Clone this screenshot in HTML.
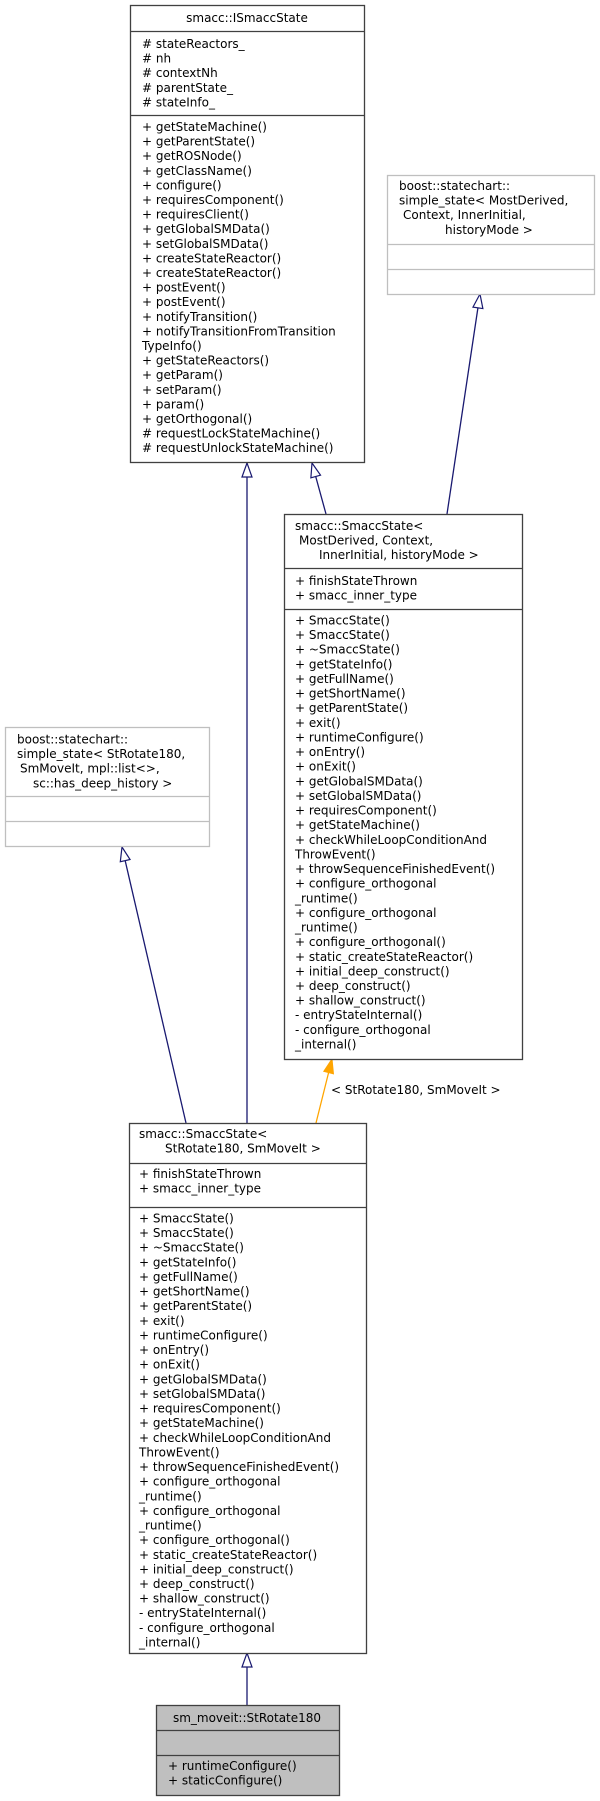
<!DOCTYPE html>
<html><head><meta charset="utf-8"><style>
html,body{margin:0;padding:0;background:#fff;}
svg{display:block;}
text{font-family:"DejaVu Sans","Liberation Sans",sans-serif;font-size:12px;fill:#000;}
</style></head><body>
<svg width="600" height="1801" viewBox="0 0 600 1801" xmlns="http://www.w3.org/2000/svg">
<defs>
<marker id="h" markerWidth="16" markerHeight="12" refX="15" refY="6" orient="auto" markerUnits="userSpaceOnUse">
<polygon points="1,1 15,6 1,11" fill="#fff" stroke="#191970" stroke-width="1.2"/></marker>
<marker id="o" markerWidth="16" markerHeight="12" refX="15" refY="6" orient="auto" markerUnits="userSpaceOnUse">
<polygon points="1,1 15,6 1,11" fill="#ffa500" stroke="#ffa500" stroke-width="1"/></marker>
</defs>

<!-- edges -->
<g stroke="#191970" stroke-width="1.3" fill="none">
<line x1="247" y1="1123" x2="247" y2="463" marker-end="url(#h)"/>
<line x1="326" y1="514" x2="312" y2="463" marker-end="url(#h)"/>
<line x1="447" y1="514" x2="480" y2="294" marker-end="url(#h)"/>
<line x1="186" y1="1123" x2="122" y2="847" marker-end="url(#h)"/>
<line x1="247" y1="1705" x2="247" y2="1653" marker-end="url(#h)"/>
</g>
<line x1="316" y1="1123" x2="332" y2="1059" stroke="#ffa500" stroke-width="1.3" marker-end="url(#o)"/>
<text x="331" y="1094">&lt; StRotate180, SmMoveIt &gt;</text>

<!-- ISmaccState -->
<rect x="130.5" y="5.5" width="234" height="457" fill="#fff" stroke="#404040" stroke-width="1.3"/>
<line x1="130" y1="31.5" x2="365" y2="31.5" stroke="#404040" stroke-width="1.3"/>
<line x1="130" y1="115.5" x2="365" y2="115.5" stroke="#404040" stroke-width="1.3"/>
<text x="247" y="22" text-anchor="middle">smacc::ISmaccState</text>
<text x="142" y="48"><tspan x="142">#&#160;stateReactors_</tspan><tspan x="142" dy="14.6"># nh</tspan><tspan x="142" dy="14.6"># contextNh</tspan><tspan x="142" dy="14.6"># parentState_</tspan><tspan x="142" dy="14.6"># stateInfo_</tspan></text>
<text x="142" y="131"><tspan x="142">+ getStateMachine()</tspan><tspan x="142" dy="14.6">+ getParentState()</tspan><tspan x="142" dy="14.6">+ getROSNode()</tspan><tspan x="142" dy="14.6">+ getClassName()</tspan><tspan x="142" dy="14.6">+ configure()</tspan><tspan x="142" dy="14.6">+ requiresComponent()</tspan><tspan x="142" dy="14.6">+ requiresClient()</tspan><tspan x="142" dy="14.6">+ getGlobalSMData()</tspan><tspan x="142" dy="14.6">+ setGlobalSMData()</tspan><tspan x="142" dy="14.6">+ createStateReactor()</tspan><tspan x="142" dy="14.6">+ createStateReactor()</tspan><tspan x="142" dy="14.6">+ postEvent()</tspan><tspan x="142" dy="14.6">+ postEvent()</tspan><tspan x="142" dy="14.6">+ notifyTransition()</tspan><tspan x="142" dy="14.6">+ notifyTransitionFromTransition</tspan><tspan x="142" dy="14.6">TypeInfo()</tspan><tspan x="142" dy="14.6">+ getStateReactors()</tspan><tspan x="142" dy="14.6">+ getParam()</tspan><tspan x="142" dy="14.6">+ setParam()</tspan><tspan x="142" dy="14.6">+ param()</tspan><tspan x="142" dy="14.6">+ getOrthogonal()</tspan><tspan x="142" dy="14.6"># requestLockStateMachine()</tspan><tspan x="142" dy="14.6"># requestUnlockStateMachine()</tspan></text>

<!-- boost right -->
<rect x="387.5" y="175.5" width="207" height="119" fill="#fff" stroke="#bfbfbf" stroke-width="1.3"/>
<line x1="387" y1="244.5" x2="595" y2="244.5" stroke="#bfbfbf" stroke-width="1.3"/>
<line x1="387" y1="269.5" x2="595" y2="269.5" stroke="#bfbfbf" stroke-width="1.3"/>
<text y="190"><tspan x="399">boost::statechart::</tspan><tspan x="399" dy="14.6">simple_state&lt; MostDerived,</tspan><tspan x="403" dy="14.6">Context, InnerInitial,</tspan><tspan x="445" dy="14.6">historyMode &gt;</tspan></text>

<!-- template SmaccState -->
<rect x="284.5" y="514.5" width="238" height="545" fill="#fff" stroke="#404040" stroke-width="1.3"/>
<line x1="284" y1="568.5" x2="523" y2="568.5" stroke="#404040" stroke-width="1.3"/>
<line x1="284" y1="609.5" x2="523" y2="609.5" stroke="#404040" stroke-width="1.3"/>
<text y="530"><tspan x="295">smacc::SmaccState&lt;</tspan><tspan x="299" dy="14.6">MostDerived, Context,</tspan><tspan x="319" dy="14.6">InnerInitial, historyMode &gt;</tspan></text>
<text y="585"><tspan x="295">+ finishStateThrown</tspan><tspan x="295" dy="14.6">+ smacc_inner_type</tspan></text>
<text y="624.5"><tspan x="295">+ SmaccState()</tspan><tspan x="295" dy="14.62">+ SmaccState()</tspan><tspan x="295" dy="14.62">+ ~SmaccState()</tspan><tspan x="295" dy="14.62">+ getStateInfo()</tspan><tspan x="295" dy="14.62">+ getFullName()</tspan><tspan x="295" dy="14.62">+ getShortName()</tspan><tspan x="295" dy="14.62">+ getParentState()</tspan><tspan x="295" dy="14.62">+ exit()</tspan><tspan x="295" dy="14.62">+ runtimeConfigure()</tspan><tspan x="295" dy="14.62">+ onEntry()</tspan><tspan x="295" dy="14.62">+ onExit()</tspan><tspan x="295" dy="14.62">+ getGlobalSMData()</tspan><tspan x="295" dy="14.62">+ setGlobalSMData()</tspan><tspan x="295" dy="14.62">+ requiresComponent()</tspan><tspan x="295" dy="14.62">+ getStateMachine()</tspan><tspan x="295" dy="14.62">+ checkWhileLoopConditionAnd</tspan><tspan x="295" dy="14.62">ThrowEvent()</tspan><tspan x="295" dy="14.62">+ throwSequenceFinishedEvent()</tspan><tspan x="295" dy="14.62">+ configure_orthogonal</tspan><tspan x="295" dy="14.62">_runtime()</tspan><tspan x="295" dy="14.62">+ configure_orthogonal</tspan><tspan x="295" dy="14.62">_runtime()</tspan><tspan x="295" dy="14.62">+ configure_orthogonal()</tspan><tspan x="295" dy="14.62">+ static_createStateReactor()</tspan><tspan x="295" dy="14.62">+ initial_deep_construct()</tspan><tspan x="295" dy="14.62">+ deep_construct()</tspan><tspan x="295" dy="14.62">+ shallow_construct()</tspan><tspan x="295" dy="14.62">- entryStateInternal()</tspan><tspan x="295" dy="14.62">- configure_orthogonal</tspan><tspan x="295" dy="14.62">_internal()</tspan></text>

<!-- boost left -->
<rect x="5.5" y="727.5" width="204" height="119" fill="#fff" stroke="#bfbfbf" stroke-width="1.3"/>
<line x1="5" y1="796.5" x2="210" y2="796.5" stroke="#bfbfbf" stroke-width="1.3"/>
<line x1="5" y1="821.5" x2="210" y2="821.5" stroke="#bfbfbf" stroke-width="1.3"/>
<text y="743.5"><tspan x="17">boost::statechart::</tspan><tspan x="17" dy="14.6">simple_state&lt; StRotate180,</tspan><tspan x="20" dy="14.6">SmMoveIt, mpl::list&lt;&gt;,</tspan><tspan x="33" dy="14.6">sc::has_deep_history &gt;</tspan></text>

<!-- middle SmaccState -->
<rect x="129.5" y="1123.5" width="237" height="530" fill="#fff" stroke="#404040" stroke-width="1.3"/>
<line x1="129" y1="1163.5" x2="367" y2="1163.5" stroke="#404040" stroke-width="1.3"/>
<line x1="129" y1="1207.5" x2="367" y2="1207.5" stroke="#404040" stroke-width="1.3"/>
<text y="1138"><tspan x="139">smacc::SmaccState&lt;</tspan><tspan x="165" dy="14.6">StRotate180, SmMoveIt &gt;</tspan></text>
<text y="1178"><tspan x="139">+ finishStateThrown</tspan><tspan x="139" dy="14.6">+ smacc_inner_type</tspan></text>
<text y="1222.5"><tspan x="139">+ SmaccState()</tspan><tspan x="139" dy="14.62">+ SmaccState()</tspan><tspan x="139" dy="14.62">+ ~SmaccState()</tspan><tspan x="139" dy="14.62">+ getStateInfo()</tspan><tspan x="139" dy="14.62">+ getFullName()</tspan><tspan x="139" dy="14.62">+ getShortName()</tspan><tspan x="139" dy="14.62">+ getParentState()</tspan><tspan x="139" dy="14.62">+ exit()</tspan><tspan x="139" dy="14.62">+ runtimeConfigure()</tspan><tspan x="139" dy="14.62">+ onEntry()</tspan><tspan x="139" dy="14.62">+ onExit()</tspan><tspan x="139" dy="14.62">+ getGlobalSMData()</tspan><tspan x="139" dy="14.62">+ setGlobalSMData()</tspan><tspan x="139" dy="14.62">+ requiresComponent()</tspan><tspan x="139" dy="14.62">+ getStateMachine()</tspan><tspan x="139" dy="14.62">+ checkWhileLoopConditionAnd</tspan><tspan x="139" dy="14.62">ThrowEvent()</tspan><tspan x="139" dy="14.62">+ throwSequenceFinishedEvent()</tspan><tspan x="139" dy="14.62">+ configure_orthogonal</tspan><tspan x="139" dy="14.62">_runtime()</tspan><tspan x="139" dy="14.62">+ configure_orthogonal</tspan><tspan x="139" dy="14.62">_runtime()</tspan><tspan x="139" dy="14.62">+ configure_orthogonal()</tspan><tspan x="139" dy="14.62">+ static_createStateReactor()</tspan><tspan x="139" dy="14.62">+ initial_deep_construct()</tspan><tspan x="139" dy="14.62">+ deep_construct()</tspan><tspan x="139" dy="14.62">+ shallow_construct()</tspan><tspan x="139" dy="14.62">- entryStateInternal()</tspan><tspan x="139" dy="14.62">- configure_orthogonal</tspan><tspan x="139" dy="14.62">_internal()</tspan></text>

<!-- final -->
<rect x="156.5" y="1705.5" width="183" height="90" fill="#bfbfbf" stroke="#404040" stroke-width="1.3"/>
<line x1="156" y1="1730.5" x2="340" y2="1730.5" stroke="#404040" stroke-width="1.3"/>
<line x1="156" y1="1755.5" x2="340" y2="1755.5" stroke="#404040" stroke-width="1.3"/>
<text x="247" y="1722" text-anchor="middle">sm_moveit::StRotate180</text>
<text y="1770"><tspan x="168">+ runtimeConfigure()</tspan><tspan x="168" dy="14.6">+ staticConfigure()</tspan></text>
</svg>
</body></html>
